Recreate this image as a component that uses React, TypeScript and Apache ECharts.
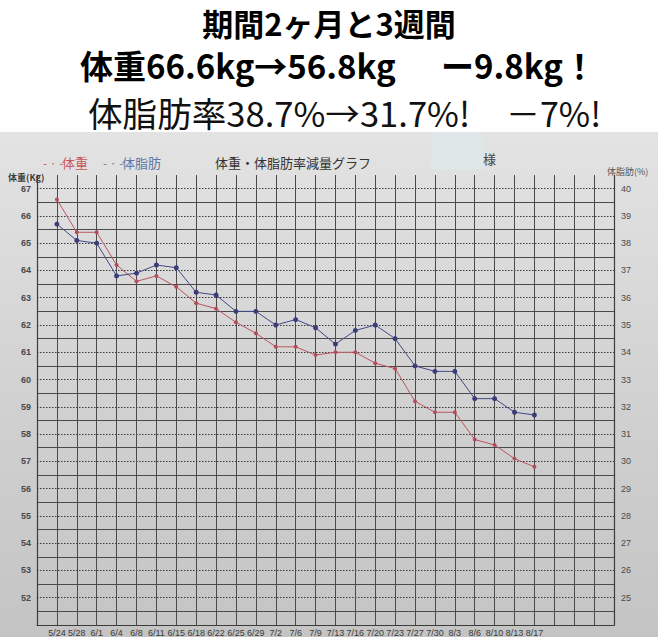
import React, { useEffect, useRef } from 'react';
import * as echarts from 'echarts';

// Measurement dates (hand-written, mostly cut off at the bottom of the photo)
const dateLabels = [
  '5/24', '5/28', '6/1', '6/4', '6/8', '6/11', '6/15', '6/18', '6/22', '6/25',
  '6/29', '7/2', '7/6', '7/9', '7/13', '7/16', '7/20', '7/23', '7/27', '7/30',
  '8/3', '8/6', '8/10', '8/13', '8/17',
];
// 体重 (kg), left axis
const weight = [
  66.6, 65.4, 65.4, 64.2, 63.6, 63.8, 63.4, 62.8, 62.6, 62.1,
  61.7, 61.2, 61.2, 60.9, 61.0, 61.0, 60.6, 60.4, 59.2, 58.8,
  58.8, 57.8, 57.6, 57.1, 56.8,
];
// 体脂肪 (%), right axis
const bodyFat = [
  38.7, 38.1, 38.0, 36.8, 36.9, 37.2, 37.1, 36.2, 36.1, 35.5,
  35.5, 35.0, 35.2, 34.9, 34.3, 34.8, 35.0, 34.5, 33.5, 33.3,
  33.3, 32.3, 32.3, 31.8, 31.7,
];
const headline1 = '期間2ヶ月と3週間';
const headline2a = '体重66.6kg→56.8kg';
const headline2b = 'ー9.8kg！';
const headline3a = '体脂肪率38.7%→31.7%!';
const headline3b = '－7%!';

const LEAD = 1; // empty grid column before first measurement
const TRAIL = 4; // empty grid columns after last measurement

export default function App() {
  const ref = useRef<HTMLDivElement>(null);
  useEffect(() => {
    document.body.style.margin = '0';
    const chart = echarts.init(ref.current!, null, { renderer: 'svg' });
    const pad = (arr: any[], fill: any) => [
      ...Array(LEAD).fill(fill),
      ...arr,
      ...Array(TRAIL).fill(fill),
    ];
    const categories = pad(dateLabels, '');
    const wMin = 51, wMax = 67.5, step = 0.5;
    const nLines = Math.round((wMax - wMin) / step) + 1;
    const gridLine = '#4a4a4a';
    const dottedColors = Array.from({ length: nLines }, (_, i) => (i % 2 === 0 ? '#3a3a3a' : 'transparent'));
    const solidColors = Array.from({ length: nLines }, (_, i) => (i % 2 === 1 && i < nLines - 1 ? gridLine : 'transparent'));
    const numFont = '"Liberation Sans", Arial, sans-serif';
    const jp = '"Noto Sans CJK JP", sans-serif';

    chart.setOption({
      animation: false,
      backgroundColor: 'transparent',
      grid: { left: 37, right: 44, top: 175, bottom: 12, containLabel: false },
      xAxis: {
        type: 'category',
        data: categories,
        boundaryGap: false,
        axisLine: { show: true, lineStyle: { color: '#3c3c3c', width: 1.2 } },
        axisTick: { show: false },
        axisLabel: {
          interval: 0,
          color: '#3a3a3a',
          fontSize: 9,
          margin: 3,
          fontFamily: numFont,
        },
        splitLine: { show: true, interval: 0, lineStyle: { color: gridLine, width: 1 } },
      },
      yAxis: [
        {
          type: 'value',
          position: 'left',
          min: wMin,
          max: wMax,
          interval: step,
          axisLine: { show: true, lineStyle: { color: '#3c3c3c', width: 1.2 } },
          axisTick: { show: false },
          axisLabel: {
            color: '#4a4a4a',
            fontSize: 9,
            fontWeight: 'bold',
            margin: 6,
            fontFamily: numFont,
            formatter: (v: number) => (Number.isInteger(v) && v >= 52 && v <= 67 ? String(v) : ''),
          },
          splitLine: { show: true, lineStyle: { color: dottedColors, type: [1.5, 1.5], width: 1 } },
        },
        {
          type: 'value',
          position: 'left',
          min: wMin,
          max: wMax,
          interval: step,
          axisLine: { show: false },
          axisTick: { show: false },
          axisLabel: { show: false },
          splitLine: { show: true, lineStyle: { color: solidColors, type: 'solid', width: 1 } },
        },
        {
          type: 'value',
          position: 'right',
          min: 24,
          max: 40.5,
          interval: step,
          axisLine: { show: true, lineStyle: { color: '#3c3c3c', width: 1.2 } },
          axisTick: { show: false },
          axisLabel: {
            color: '#4a4a4a',
            fontSize: 9,
            margin: 7,
            fontFamily: numFont,
            formatter: (v: number) => (Number.isInteger(v) && v >= 25 && v <= 40 ? String(v) : ''),
          },
          splitLine: { show: false },
        },
      ],
      series: [
        {
          name: '体重',
          type: 'line',
          yAxisIndex: 0,
          data: pad(weight, '-'),
          symbol: 'circle',
          symbolSize: 4,
          itemStyle: { color: '#b24c58' },
          lineStyle: { color: '#b9565f', width: 1 },
          z: 5,
        },
        {
          name: '体脂肪',
          type: 'line',
          yAxisIndex: 2,
          data: pad(bodyFat, '-'),
          symbol: 'circle',
          symbolSize: 5,
          itemStyle: { color: '#3a3c78' },
          lineStyle: { color: '#45488a', width: 1 },
          z: 5,
        },
      ],
      graphic: [
        {
          type: 'text', x: 329, y: 22,
          style: { text: headline1, fontSize: 31, fontWeight: 'bold', fontFamily: jp, fill: '#000', textAlign: 'center', textVerticalAlign: 'middle' },
        },
        {
          type: 'text', x: 80, y: 65,
          style: { text: headline2a, fontSize: 33, fontWeight: 'bold', fontFamily: jp, fill: '#000', textAlign: 'left', textVerticalAlign: 'middle' },
        },
        {
          type: 'text', x: 441, y: 65,
          style: { text: headline2b, fontSize: 33, fontWeight: 'bold', fontFamily: jp, fill: '#000', textAlign: 'left', textVerticalAlign: 'middle' },
        },
        {
          type: 'text', x: 88, y: 112,
          style: { text: headline3a, fontSize: 34.6, fontWeight: 'normal', fontFamily: jp, fill: '#111', textAlign: 'left', textVerticalAlign: 'middle' },
        },
        {
          type: 'text', x: 506, y: 112,
          style: { text: headline3b, fontSize: 34, fontWeight: 'normal', fontFamily: jp, fill: '#111', textAlign: 'left', textVerticalAlign: 'middle' },
        },
        {
          type: 'text', x: 43, y: 162,
          style: { text: '- · -', fontSize: 12, fontFamily: jp, fill: '#c4636a', textVerticalAlign: 'middle' },
        },
        {
          type: 'text', x: 62, y: 162,
          style: { text: '体重', fontSize: 13, fontFamily: jp, fill: '#c9585c', textVerticalAlign: 'middle' },
        },
        {
          type: 'text', x: 103, y: 162,
          style: { text: '- · -', fontSize: 12, fontFamily: jp, fill: '#6a7aa6', textVerticalAlign: 'middle' },
        },
        {
          type: 'text', x: 122, y: 162,
          style: { text: '体脂肪', fontSize: 13, fontFamily: jp, fill: '#5f77a6', textVerticalAlign: 'middle' },
        },
        {
          type: 'text', x: 215, y: 162,
          style: { text: '体重・体脂肪率減量グラフ', fontSize: 13, fontFamily: jp, fill: '#333', textVerticalAlign: 'middle' },
        },
        {
          type: 'rect', shape: { x: 431, y: 132, width: 52, height: 38 },
          style: { fill: '#dfe6e8' },
        },
        {
          type: 'text', x: 483, y: 158,
          style: { text: '様', fontSize: 13, fontFamily: jp, fill: '#444', textVerticalAlign: 'middle' },
        },
        {
          type: 'text', x: 8, y: 177,
          style: { text: '体重(Kg)', fontSize: 9, fontWeight: 'bold', fontFamily: jp, fill: '#3c3c3c', textVerticalAlign: 'middle' },
        },
        {
          type: 'text', x: 607, y: 171,
          style: { text: '体脂肪(%)', fontSize: 9, fontFamily: jp, fill: '#555', textVerticalAlign: 'middle' },
        },
      ],
    });
    return () => chart.dispose();
  }, []);

  return (
    <div
      ref={ref}
      style={{
        position: 'fixed',
        left: 0,
        top: 0,
        width: 658,
        height: 637,
        background: 'linear-gradient(to bottom, #ffffff 0px, #ffffff 132px, #e3e3e3 132px, #d0d0d0 420px, #c4c4c4 637px)',
      }}
    />
  );
}
